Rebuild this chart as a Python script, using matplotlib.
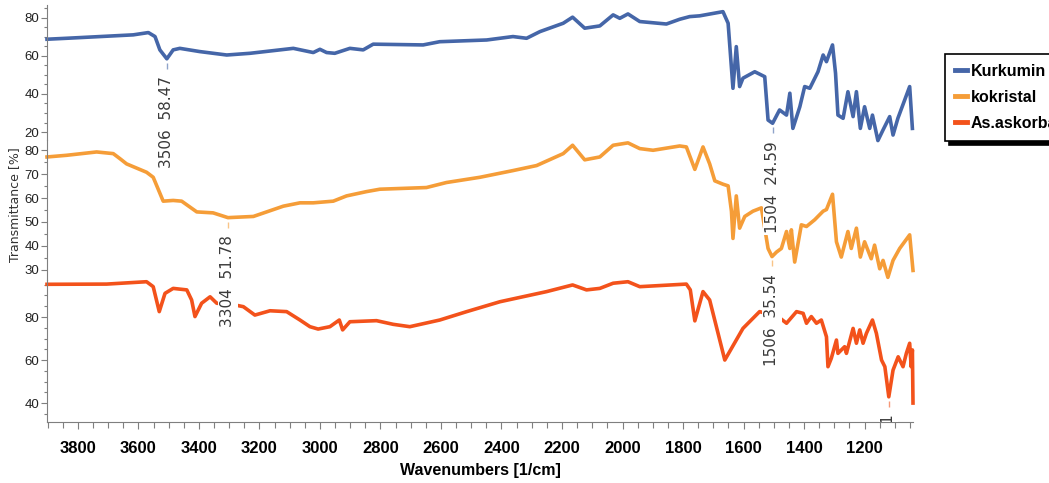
import matplotlib
matplotlib.use('Agg')
import matplotlib.pyplot as plt
from matplotlib.ticker import MultipleLocator
from matplotlib.transforms import ScaledTranslation

plt.rcParams['font.family'] = ['Liberation Sans', 'DejaVu Sans']

# Kurkumin (gornji spektar)
kurk_wn = [3902, 3837, 3727, 3617, 3567, 3545, 3529, 3506, 3485, 3463, 3397, 3308, 3231, 3132, 3088,
           3022, 3000, 2978, 2951, 2901, 2857, 2824, 2659, 2604, 2449, 2362, 2317, 2273, 2196, 2165,
           2125, 2075, 2031, 2009, 1982, 1943, 1855, 1811, 1778, 1745, 1668, 1651, 1635, 1624, 1613,
           1602, 1563, 1530, 1519, 1504, 1481, 1458, 1447, 1437, 1414, 1398, 1381, 1354, 1337, 1326,
           1306, 1296, 1288, 1271, 1255, 1238, 1227, 1214, 1200, 1183, 1174, 1156, 1139, 1117, 1106,
           1090, 1051, 1042]
kurk_t = [68.8, 69.3, 70.2, 71.1, 72.3, 70.2, 63.2, 58.5, 63.2, 64.0, 62.3, 60.5, 61.4, 63.2, 64.0,
          61.8, 63.5, 61.8, 61.4, 64.0, 63.2, 66.2, 65.8, 67.5, 68.4, 70.2, 69.3, 72.8, 77.2, 80.4,
          74.6, 75.8, 81.6, 79.8, 82.1, 78.1, 76.8, 79.3, 80.7, 81.1, 83.3, 77.2, 43.0, 64.9, 43.9,
          48.3, 51.7, 49.1, 26.3, 24.6, 31.6, 28.9, 40.4, 21.9, 33.3, 43.9, 43.0, 51.7, 60.5, 57.0,
          65.8, 50.9, 28.9, 27.2, 41.2, 28.1, 41.2, 21.9, 33.3, 21.9, 28.9, 15.5, 21.1, 28.1, 18.4,
          27.2, 43.9, 21.9]

# kokristal (srednji)
kok_wn = [3902, 3837, 3738, 3683, 3661, 3639, 3573, 3551, 3518, 3485, 3457, 3407, 3353, 3304, 3220,
          3121, 3066, 3022, 2956, 2912, 2846, 2802, 2648, 2582, 2471, 2362, 2284, 2196, 2165, 2125,
          2075, 2031, 1982, 1943, 1899, 1811, 1789, 1761, 1734, 1712, 1695, 1668, 1651, 1640, 1635,
          1624, 1613, 1596, 1569, 1541, 1519, 1506, 1491, 1475, 1458, 1447, 1442, 1431, 1409, 1392,
          1365, 1337, 1326, 1306, 1293, 1277, 1255, 1244, 1227, 1214, 1200, 1178, 1167, 1150, 1139,
          1123, 1106, 1084, 1051, 1040]
kok_t = [77.2, 77.9, 79.3, 78.6, 76.5, 74.3, 70.8, 68.7, 58.7, 59.0, 58.7, 54.2, 53.8, 51.8, 52.3,
         56.6, 58.0, 58.0, 58.7, 60.9, 62.7, 63.7, 64.4, 66.5, 68.7, 71.5, 73.6, 78.6, 82.1, 76.0,
         77.2, 82.1, 83.1, 80.7, 80.0, 81.8, 81.4, 72.0, 81.4, 74.3, 67.2, 65.8, 65.1, 54.5, 43.1,
         60.9, 47.4, 52.3, 54.5, 55.9, 38.9, 35.5, 37.4, 38.9, 46.0, 38.9, 46.7, 33.2, 48.8, 48.1,
         50.9, 54.5, 55.2, 61.6, 41.7, 35.3, 46.0, 38.9, 47.4, 35.3, 41.7, 34.6, 40.3, 30.4, 33.9,
         26.8, 33.9, 38.9, 44.6, 29.7]

# As.askorbat (donji)
ask_wn = [3902, 3705, 3573, 3551, 3531, 3512, 3485, 3440, 3424, 3413, 3391, 3363, 3341, 3281, 3253,
          3215, 3165, 3110, 3066, 3033, 3006, 2967, 2936, 2925, 2901, 2813, 2758, 2703, 2604, 2515,
          2405, 2251, 2165, 2119, 2075, 2031, 1982, 1943, 1789, 1776, 1761, 1734, 1712, 1662, 1602,
          1547, 1486, 1458, 1425, 1403, 1392, 1376, 1359, 1343, 1326, 1321, 1310, 1293, 1288, 1266,
          1260, 1238, 1227, 1216, 1205, 1194, 1174, 1161, 1144, 1133, 1120, 1106, 1089, 1073, 1062,
          1051, 1046, 1042, 1040]
ask_t = [95.2, 95.3, 96.4, 94.1, 82.5, 91.0, 93.3, 92.6, 87.9, 80.2, 86.4, 89.4, 86.4, 85.6, 84.8,
         80.9, 82.9, 82.5, 78.6, 75.5, 74.4, 75.5, 78.6, 74.0, 77.8, 78.3, 76.6, 75.5, 78.6, 82.5,
         87.1, 91.8, 94.9, 92.6, 93.3, 95.7, 96.4, 94.1, 95.3, 92.6, 78.2, 91.8, 87.9, 60.0, 74.7,
         82.5, 80.2, 77.1, 82.5, 81.7, 77.1, 80.2, 77.1, 78.6, 70.8, 56.9, 60.8, 69.3, 63.1, 66.2,
         63.1, 74.7, 67.8, 74.0, 67.8, 72.4, 78.6, 72.4, 60.0, 56.9, 42.9, 55.3, 61.5, 56.9, 63.1,
         67.8, 56.9, 64.7, 40.0]

names = ['Kurkumin', 'kokristal', 'As.askorbat']
colors = ['#4566a8', '#f59d38', '#f3521b']

# oznake pikova
peak_series = [0, 1, 0, 1, 2]
peak_wn = [3506, 3304, 1504, 1506, 1120]
peak_t = [58.47, 51.78, 24.59, 35.54, 42.91]

fig = plt.figure(figsize=(10.49, 4.83), dpi=100)
L, W = 47 / 1049, 866 / 1049


def rect(top, bottom):
    return [L, 1 - bottom / 483, W, (bottom - top) / 483]


ax1 = fig.add_axes(rect(5, 140))
ax2 = fig.add_axes(rect(140, 280), sharex=ax1)
ax3 = fig.add_axes(rect(280, 422), sharex=ax1)
axes = [ax1, ax2, ax3]
ylims = [(15.8, 86.8), (25.7, 84.3), (31.2, 97.2)]
ysteps = [20, 10, 20]
series = [(kurk_wn, kurk_t), (kok_wn, kok_t), (ask_wn, ask_t)]
grey = '#7f7f7f'

lines = []
for ax, (wn, t), c, lim, step, name in zip(axes, series, colors, ylims, ysteps, names):
    ln, = ax.plot(wn, t, color=c, lw=2.6, clip_on=False, label=name,
                  solid_joinstyle='round')
    lines.append(ln)
    ax.set_ylim(*lim)
    ax.yaxis.set_major_locator(MultipleLocator(step))
    ax.yaxis.set_minor_locator(MultipleLocator(5))
    ax.set_facecolor('none')
    for s in ['top', 'right', 'bottom']:
        ax.spines[s].set_visible(False)
    ax.spines['left'].set_color(grey)
    ax.tick_params(axis='y', which='major', length=4, width=0.8, color=grey,
                   labelsize=9.5, pad=1.5, labelcolor='#222222')
    ax.tick_params(axis='y', which='minor', length=2.5, width=0.8, color=grey)

ax1.set_xlim(3902, 1040)
for ax in (ax1, ax2):
    ax.tick_params(axis='x', which='both', bottom=False, labelbottom=False)

ax3.spines['bottom'].set_visible(True)
ax3.spines['bottom'].set_color(grey)
ax3.xaxis.set_major_locator(MultipleLocator(200))
ax3.xaxis.set_minor_locator(MultipleLocator(50))
ax3.tick_params(axis='x', which='major', length=5, width=0.8, color=grey,
                labelsize=12, pad=9)
ax3.tick_params(axis='x', which='minor', length=4.3, width=0.8, color=grey)
for lab in ax3.get_xticklabels():
    lab.set_fontweight('bold')
ax3.set_xlabel('Wavenumbers [1/cm]', fontsize=11.5, fontweight='bold', labelpad=5)

fig.text(15 / 1049, 1 - 205 / 483, 'Transmittance [%]', rotation=90, ha='center',
         va='center', fontsize=9, family='DejaVu Sans', color='#333333')

# oznake s vrijednostima ispod minimuma
for si, w, v in zip(peak_series, peak_wn, peak_t):
    ax = axes[si]
    dash_tr = ax.transData + ScaledTranslation(0, -0.07, fig.dpi_scale_trans)
    ax.plot([w], [v], marker='|', ms=4, mew=1, color=colors[si], alpha=0.6,
            transform=dash_tr, clip_on=False)
    txt_tr = ax.transData + ScaledTranslation(0, -0.175, fig.dpi_scale_trans)
    label = f'{w}  {v:.2f}'
    kw = dict(rotation=90, ha='center', va='top', fontsize=11, family='DejaVu Sans',
              color='#3a3a3a', transform=txt_tr,
              bbox=dict(facecolor='white', edgecolor='none', pad=1.5))
    if si == 2:
        ax.text(w, v, label, clip_on=True, **kw)
    else:
        fig.text(w, v, label, **kw)

leg = fig.legend(lines, names, loc='upper left', bbox_to_anchor=(945 / 1049, 1 - 54 / 483),
                 prop=dict(family=['Liberation Sans', 'DejaVu Sans'], weight='bold', size=11.5),
                 frameon=True, fancybox=False,
                 shadow={'ox': 3, 'oy': -3, 'facecolor': 'black', 'edgecolor': 'black', 'alpha': 1},
                 edgecolor='black', framealpha=1, handlelength=0.75, handletextpad=0.25,
                 borderpad=0.6, labelspacing=0.7, borderaxespad=0)
leg.get_frame().set_linewidth(1.2)
for ln in leg.get_lines():
    ln.set_linewidth(3.5)

fig.savefig('out.png', dpi=100)
